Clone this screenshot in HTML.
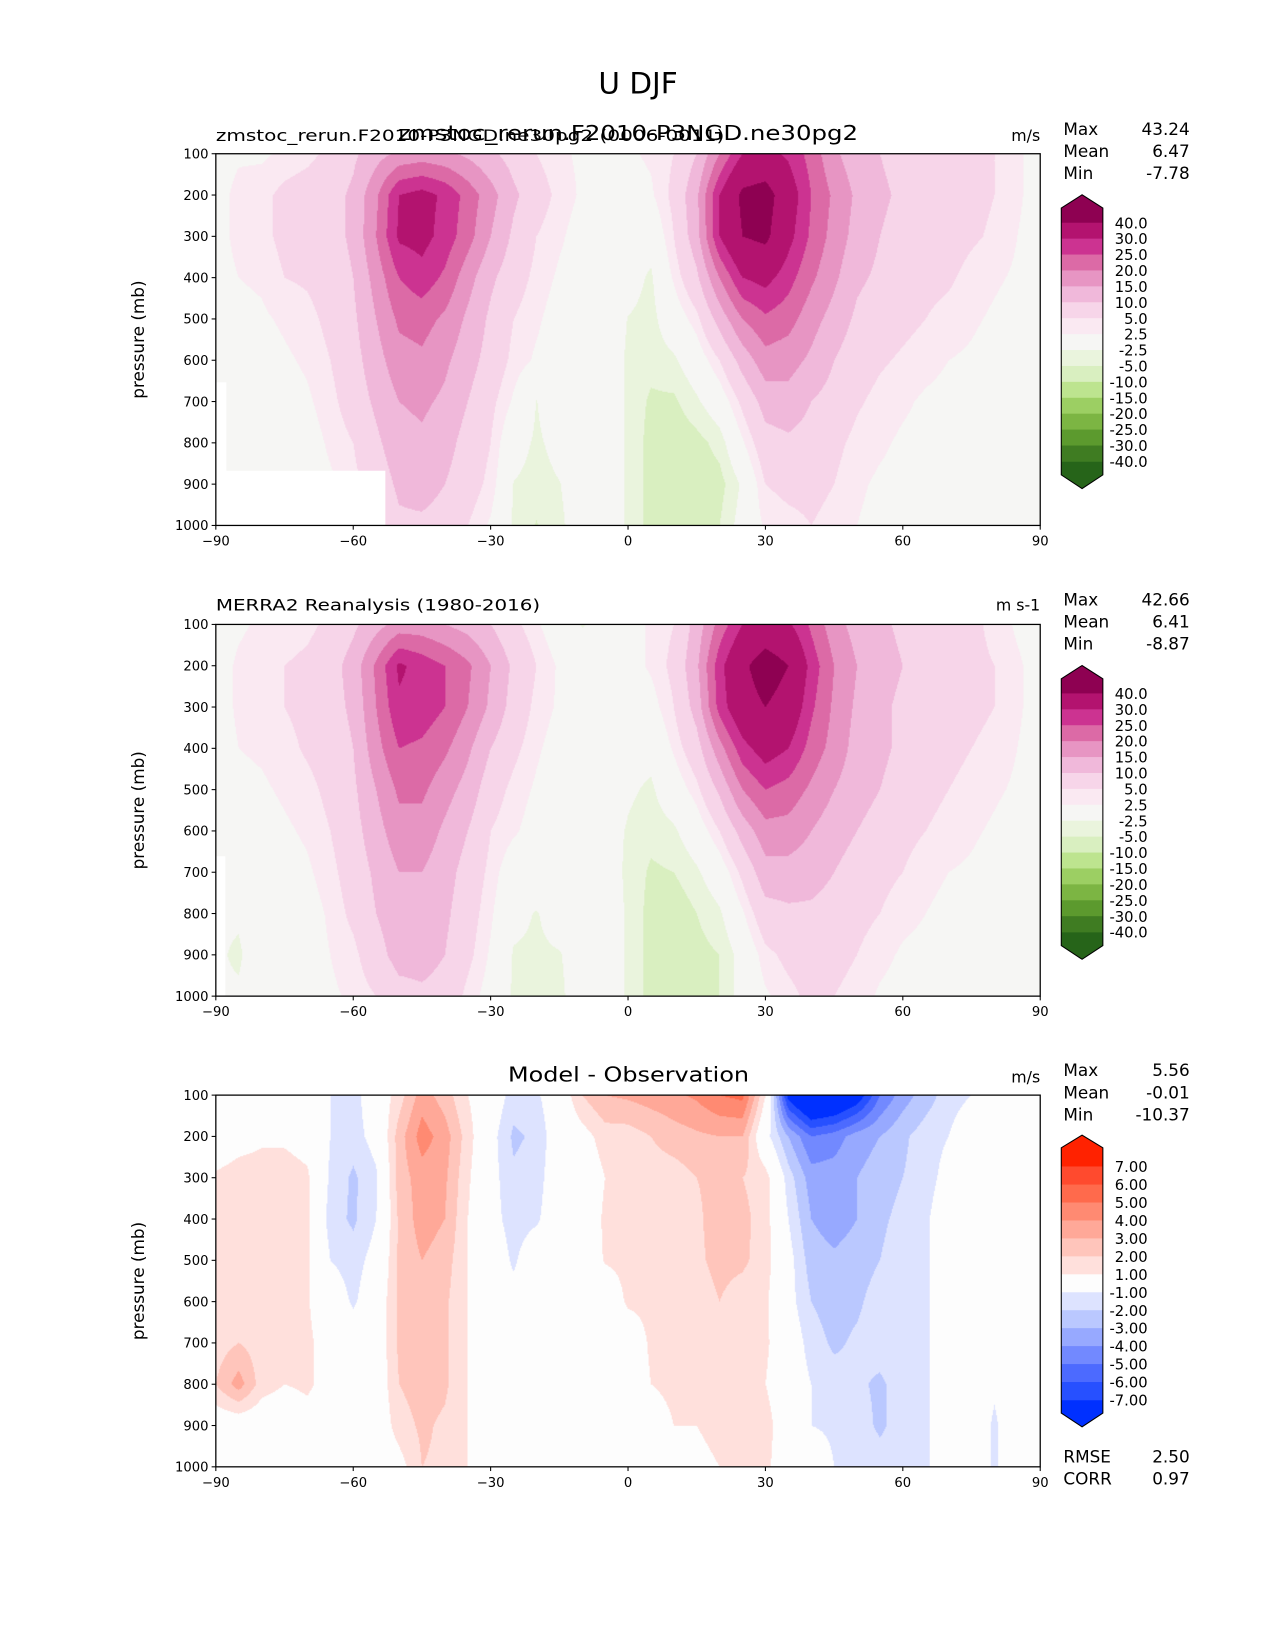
<!DOCTYPE html>
<html><head><meta charset="utf-8"><title>U DJF</title>
<style>
html,body{margin:0;padding:0;background:#fff;}
#page{position:absolute;left:0;top:0;width:1211px;height:1567px;transform:scale(1.05285,1.0530);transform-origin:0 0;font-family:"DejaVu Sans","Liberation Sans",sans-serif;}
canvas{position:absolute;}
svg{position:absolute;left:0;top:0;}
</style></head>
<body>
<div id="page">
<canvas id="c1" width="783" height="353" style="left:205px;top:146px"></canvas>
<canvas id="c2" width="783" height="353" style="left:205px;top:593px"></canvas>
<canvas id="c3" width="783" height="353" style="left:205px;top:1040px"></canvas>
<svg id="ov" width="1211" height="1567" viewBox="0 0 1211 1567">
<text x="606" y="89" font-size="28" text-anchor="middle">U DJF</text>
<text x="205" y="134" font-size="15" textLength="483" lengthAdjust="spacingAndGlyphs">zmstoc_rerun.F2010-P3NGD.ne30pg2 (0006-0011)</text>
<text x="378" y="133" font-size="19" textLength="437" lengthAdjust="spacingAndGlyphs">zmstoc_rerun.F2010-P3NGD.ne30pg2</text>
<text x="988" y="134" font-size="15" text-anchor="end">m/s</text>
<text x="205" y="580" font-size="15" textLength="308" lengthAdjust="spacingAndGlyphs">MERRA2 Reanalysis (1980-2016)</text>
<text x="988" y="580" font-size="15" text-anchor="end">m s-1</text>
<text x="597" y="1027" font-size="19" text-anchor="middle" textLength="229" lengthAdjust="spacingAndGlyphs">Model - Observation</text>
<text x="988" y="1028" font-size="15" text-anchor="end">m/s</text>
<g font-size="16">
<text x="1010" y="128">Max</text><text x="1130" y="128" text-anchor="end">43.24</text>
<text x="1010" y="149">Mean</text><text x="1130" y="149" text-anchor="end">6.47</text>
<text x="1010" y="170">Min</text><text x="1130" y="170" text-anchor="end">-7.78</text>
</g>
<g font-size="16">
<text x="1010" y="575">Max</text><text x="1130" y="575" text-anchor="end">42.66</text>
<text x="1010" y="596">Mean</text><text x="1130" y="596" text-anchor="end">6.41</text>
<text x="1010" y="617">Min</text><text x="1130" y="617" text-anchor="end">-8.87</text>
</g>
<g font-size="16">
<text x="1010" y="1022">Max</text><text x="1130" y="1022" text-anchor="end">5.56</text>
<text x="1010" y="1043">Mean</text><text x="1130" y="1043" text-anchor="end">-0.01</text>
<text x="1010" y="1064">Min</text><text x="1130" y="1064" text-anchor="end">-10.37</text>
<text x="1010" y="1389">RMSE</text><text x="1130" y="1389" text-anchor="end">2.50</text>
<text x="1010" y="1410">CORR</text><text x="1130" y="1410" text-anchor="end">0.97</text>
</g>
</svg>
</div>
<script>
const lats = [-90,-85,-80,-75,-70,-65,-60,-55,-50,-45,-40,-35,-30,-25,-20,-15,-10,-5,0,5,10,15,20,25,30,35,40,45,50,55,60,65,70,75,80,85,90];
const pLevels = [100,200,300,400,500,600,700,800,900,1000];
const xTicks = [-90,-60,-30,0,30,60,90];
const xTickLabels = ["\u221290","\u221260","\u221230","0","30","60","90"];
const yTicks = [100,200,300,400,500,600,700,800,900,1000];
// model U, one column per latitude, values at 100..1000 mb
const modelU = [
[1,1,1,1,1,0,0,0,0,0],
[2,3.5,3.5,2.5,1.5,0.5,0,-1,0,0],
[2,4,4,3,2,1,0.5,0,0,0],
[3,6,6,5,3,2,1,0.5,0,0],
[4,7,7,5.5,4,3,2,1,1,1],
[6,8,8,7,6,5,4,3,2,2],
[9,11,11,10,9,8,7,5,4,3],
[13,19,20,17,15,13,11,9,7,5],
[16,30,31,25,21,18,15,13,11,9],
[17,32,32,28,22,19,16,14,12,9],
[16,29,28,24,19,16,14,12,10,8],
[14,23,22,17,14,12,10,8,7,5],
[11,17,15,11,9,8,6,5,4,2],
[8,11,9,7,5,4,2,-1,-2.6,-3],
[5,7,5,4,3,2,-2.6,-3,-3.5,-5.2],
[3,4,3,2,1,1,0,-1.5,-2.6,-3],
[2,2,1,1,0.5,0,0,0,-1,-1],
[1,1,0.5,0,0,0,0,0,0,0],
[2,1,0,-1,-2.6,-3,-3,-3,-3,-3],
[3,2,-1,-3,-3.5,-4,-5.5,-6,-6,-6],
[5,6,5,3,0,-3,-5.5,-7,-7,-7],
[10,14,13,9,4,0,-3,-6,-7,-7],
[20,30,30,20,12,5,0,-4,-6,-5],
[30,42,40,30,20,12,6,2,-2,-1],
[32,44,42,32,24,18,12,8,5,3],
[29,34,32,27,22,17,13,9,6,4],
[23,25,24,21,17,14,10,8,6,5],
[16,19,18,16,13,10,8,6,5,4],
[12,14,13,11,9,7,5.5,4,3,2.5],
[10,11,10,9,7,5.5,4,3,2,1.5],
[8,9,8,7,6,4.5,3,2,1.5,1],
[7,7.5,7,6,5,3.5,2,1.5,1,1],
[6.5,7,6.5,5.5,4,2.5,1.5,1,1,1],
[6,6,5.5,4,3,2,1,1,1,1],
[5,5,4.5,3,2,1,1,1,1,1],
[3,3,2.5,2,1,1,1,1,1,1],
[1,1,1,1,1,1,1,1,1,1]];
const obsU = [
[1,1,1,1,1,0,-1,-2,-2,-2],
[2,3,3,2.5,1.5,0.5,-1,-2,-3,-2],
[3,4,4,3,2,1,0,0,0,0],
[3,5,5,4,3,2,1,0.5,0,0],
[4,6,6,5.5,4,3,2,1,1,0.5],
[6,8,8,7,6,5,4,3,2.5,2],
[9,12,11,10,9,8,7,6,4,3],
[13,21,20,18,15,13,11,10,8,5],
[17,31,29,25,21,18,15,13,12,8],
[17,28,28,24,21,18,15,13,12,9],
[15,25,25,21,17,14,12,11,10,8],
[13,21,20,16,13,10,8,7,6,4],
[10,15,14,10,7,5,4,3,2,1],
[6,9,8,6,4,3,0,-1.5,-2.8,-3],
[3,5,4,3,2,1,0,-2.7,-3,-3],
[0,2,2,1,0.5,0,0,-1,-2.7,-3],
[-2.8,1,1,0.5,0,0,0,0,-1,-1],
[-1,1,1,0,0,-1,-1,0,0,0],
[1,1,0,-1,-2,-2.8,-3,-3,-3,-3],
[3,3,1,-1.5,-3,-4,-5.5,-6,-6,-6],
[5,6,5,3,0,-3,-5,-7,-7,-7],
[12,14,12,8,4,0,-3,-5,-6,-7],
[22,28,27,18,11,5,0,-3,-5,-5],
[30,38,36,28,20,12,6,2,-1,-1],
[33,45,40,33,25,18,13,8,4,2],
[31,40,36,30,23,18,13,9,6,4],
[24,28,26,23,19,15,12,9,7,6],
[17,20,19,18,15,12,10,8,6,5],
[13,15,14,13,12,10,8,6,5,4],
[11,12,11,11,10,8,6,5,3.5,2],
[9,10,9,9,8,6,5,3.5,2,1],
[8,8,8,7.5,6,5,3.5,2.5,1.5,1],
[7,7,7,6,5,4,2.5,1.5,1,1],
[6,6,6,5,4,3,2,1,1,1],
[4,5,5,4,3,2,1,1,1,1],
[2,3,3,2.5,2,1,1,1,1,1],
[1,1,1,1,1,1,1,1,1,1]];
const diffU = [
[0,0,1.2,1.2,1.2,1.2,1.5,2,0,0],
[0,0.5,1.5,1.5,1.5,1.3,2,3.5,0,0],
[0,0.8,1.5,1.3,1,1,1.5,1.5,0,0],
[0,0.8,1.5,1.3,1.2,1.1,1.2,1,0,0],
[0,0.5,1.2,1.2,1.2,1.1,1.2,1.2,0.5,0],
[-1,-1,-1.2,-1.5,-1,0,0.5,0.5,0,0],
[-1.5,-1.5,-2.2,-2.2,-1.5,-1.2,0,0,0,0],
[0,-0.5,-1.2,-1,-0.5,0,0,0,0,0],
[1.5,2.5,2.5,2.2,2.2,2.2,2.2,2,1.5,0.5],
[3.5,4.5,3.5,3.5,3,2.5,2.5,2.5,2.2,2],
[2.5,3.5,3.2,3,2.5,2.2,2.2,2.2,1.8,1.8],
[1,1.5,1.2,1,1,1,1,1,1,1],
[0,-0.5,-0.5,-0.5,0,0,0,0,0,0],
[-1.5,-2.2,-1.8,-1.5,-1.2,-0.5,0,0,0,0],
[-1.2,-1.8,-1.5,-1.2,0,0,0,0,0,0],
[0,0,0,0,0,0,0,0,0,0],
[2,0.5,0,0,0,0,0,0,0,0],
[3,1.5,1,1.2,1.1,0,0,0,0,0],
[3.2,1.5,1.2,1.5,1.3,1.2,0,0,0,0],
[3.5,2,1.5,1.5,1.5,1.3,1.2,1,0.5,0],
[3.8,2.5,1.5,1.5,1.5,1.5,1.2,1.2,1,0.5],
[4.2,2.8,2,1.8,1.8,1.5,1.2,1.2,1,0.8],
[5,3,2.3,2.5,2.3,2,1.5,1.2,1.2,1],
[5.3,3,2,2.3,2.2,1.5,1.5,1.2,1.2,1.2],
[1,-0.5,1.5,1.5,1.5,1.2,1.2,1,1.5,1.3],
[-7.5,-3,-1.5,-1,-0.5,-0.5,0,0,0,0],
[-10,-5,-3.5,-3,-2.5,-2,-1.5,-1,-1,0],
[-9.5,-4.5,-3.5,-3.5,-2.8,-2.5,-2.2,-1.5,-1.2,-1],
[-8,-3.5,-3,-3,-2.5,-2.2,-1.8,-1.8,-1.5,-1.2],
[-5,-3,-2.5,-2.2,-2,-1.5,-1.5,-2.2,-2.2,-1.5],
[-3.5,-2.2,-2,-1.7,-1.5,-1.2,-1.2,-1.5,-1.5,-1.5],
[-2.5,-1.5,-1.5,-1.2,-1.2,-1.2,-1.2,-1.2,-1.2,-1.2],
[-1.5,-1,-0.5,0,0,0,0,0,0,0],
[-1,0,0,0,0,0,0,0,0,0],
[0,0,0,0,0,0,0,-0.8,-1.2,-1.2],
[0,0,0,0,0,0,0,0,0,0],
[0,0,0,0,0,0,0,0,0,0]];
const uLevels = [-40,-30,-25,-20,-15,-10,-5,-2.5,2.5,5,10,15,20,25,30,40];
const uLevelLabels = ["-40.0","-30.0","-25.0","-20.0","-15.0","-10.0","-5.0","-2.5","2.5","5.0","10.0","15.0","20.0","25.0","30.0","40.0"];
const uColors = ["#266419","#3f7c22","#5c9a2e","#7cb543","#9ccf63","#bde48f","#d9efc0","#eaf4dd","#f6f6f4","#fae9f2","#f7d5e9","#f0b8da","#e795c3","#dc6aa6","#cc3391","#b3136f","#8e0152"];
const dLevels = [-7,-6,-5,-4,-3,-2,-1,1,2,3,4,5,6,7];
const dLevelLabels = ["-7.00","-6.00","-5.00","-4.00","-3.00","-2.00","-1.00","1.00","2.00","3.00","4.00","5.00","6.00","7.00"];
const dColors = ["#0030ff","#2750ff","#4c6aff","#7289ff","#97a9ff","#bac8ff","#dde3ff","#fdfdfd","#ffe0dc","#ffc5bb","#ffa898","#ff8a72","#ff6a4c","#ff4a2e","#ff2200"];

const PX0 = 205, PW = 783, PH = 353;
const panelTops = [146, 593, 1040];
function xScale(lat){ return PX0 + (lat + 90) / 180 * PW; }
function yScale(p, top){ return top + (p - 100) / 900 * PH; }

function sample(grid, lat, p){
  let fi = (lat - lats[0]) / (lats[1] - lats[0]);
  let fj = (p - pLevels[0]) / (pLevels[1] - pLevels[0]);
  fi = Math.max(0, Math.min(lats.length - 1.0001, fi));
  fj = Math.max(0, Math.min(pLevels.length - 1.0001, fj));
  const i = Math.floor(fi), j = Math.floor(fj), a = fi - i, b = fj - j;
  return grid[i][j]*(1-a)*(1-b) + grid[i+1][j]*a*(1-b) + grid[i][j+1]*(1-a)*b + grid[i+1][j+1]*a*b;
}
function hex(c){ return [parseInt(c.slice(1,3),16),parseInt(c.slice(3,5),16),parseInt(c.slice(5,7),16)]; }

function renderField(id, grid, levels, colors, mask){
  const cv = document.getElementById(id), ctx = cv.getContext('2d');
  const img = ctx.createImageData(PW, PH), rgb = colors.map(hex);
  for (let y = 0; y < PH; y++){
    const p = 100 + 900 * (y + 0.5) / PH;
    for (let x = 0; x < PW; x++){
      const lat = -90 + 180 * (x + 0.5) / PW;
      let c;
      if (mask && mask(lat, p)) c = [255,255,255];
      else { const v = sample(grid, lat, p); let k = 0; while (k < levels.length && v >= levels[k]) k++; c = rgb[k]; }
      const o = (y * PW + x) * 4;
      img.data[o] = c[0]; img.data[o+1] = c[1]; img.data[o+2] = c[2]; img.data[o+3] = 255;
    }
  }
  ctx.putImageData(img, 0, 0);
}
renderField('c1', modelU, uLevels, uColors, (lat,p)=> (lat < -87.7 && p > 652) || (lat < -53 && p > 868));
renderField('c2', obsU, uLevels, uColors, (lat,p)=> (lat < -88 && p > 660));
renderField('c3', diffU, dLevels, dColors, null);

const NS = 'http://www.w3.org/2000/svg';
const svg = document.getElementById('ov');
function mk(tag, attrs, parent){ const e = document.createElementNS(NS, tag); for (const k in attrs) e.setAttribute(k, attrs[k]); (parent||svg).appendChild(e); return e; }

const panelNames = ['model','obs','diff'];
panelTops.forEach((top, pi) => {
  const g = mk('g', {});
  
  
  const fr = mk('rect', {x: PX0, y: top, width: PW, height: PH, fill: 'none', stroke: '#000', 'stroke-width': 1.2}, g);
  
  
  xTicks.forEach((t, i) => {
    const x = xScale(t);
    const tk = mk('line', {x1: x, x2: x, y1: top + PH, y2: top + PH + 4, stroke: '#000', 'stroke-width': 1}, g);
    
    
    const tl = mk('text', {x: x, y: top + PH + 19, 'font-size': 12.5, 'text-anchor': 'middle'}, g);
    tl.textContent = xTickLabels[i];
    
    
  });
  yTicks.forEach(t => {
    const y = yScale(t, top);
    const tk = mk('line', {x1: PX0 - 4, x2: PX0, y1: y, y2: y, stroke: '#000', 'stroke-width': 1}, g);
    
    
    const tl = mk('text', {x: PX0 - 7, y: y + 4.5, 'font-size': 12.5, 'text-anchor': 'end'}, g);
    tl.textContent = String(t);
    
    
  });
  const yl = mk('text', {x: 0, y: 0, 'font-size': 16, 'text-anchor': 'middle', transform: 'translate(137,' + (top + PH/2) + ') rotate(-90)'}, g);
  yl.textContent = 'pressure (mb)';
  
  
});

function colorbar(name, levels, labels, colors, tip, shoulder, bTop, bBot, shoulder2, tip2){
  const g = mk('g', {});
  
  
  const x0 = 1008, x1 = 1047.5, xc = (x0 + x1) / 2;
  const n = levels.length - 1, h = (bBot - bTop) / n;
  const top = mk('polygon', {points: `${x0},${bTop} ${x0},${shoulder} ${xc},${tip} ${x1},${shoulder} ${x1},${bTop}`, fill: colors[colors.length-1]}, g);
  
  
  for (let k = 0; k < n; k++){
    const r = mk('rect', {x: x0, y: bTop + k*h - 0.3, width: x1 - x0, height: h + 0.6, fill: colors[colors.length - 2 - k]}, g);
    
    
  }
  const bot = mk('polygon', {points: `${x0},${bBot} ${x0},${shoulder2} ${xc},${tip2} ${x1},${shoulder2} ${x1},${bBot}`, fill: colors[0]}, g);
  
  
  const ol = mk('polygon', {points: `${x0},${shoulder} ${xc},${tip} ${x1},${shoulder} ${x1},${shoulder2} ${xc},${tip2} ${x0},${shoulder2}`, fill: 'none', stroke: '#000', 'stroke-width': 1}, g);
  
  
  for (let k = 0; k <= n; k++){
    const y = bTop + k*h;
    const t = mk('text', {x: 1090, y: y + 5, 'font-size': 14, 'text-anchor': 'end'}, g);
    t.textContent = labels[labels.length - 1 - k];
    
    
  }
}
colorbar('model-colorbar', uLevels, uLevelLabels, uColors, 185, 197.6, 211.8, 438.5, 451, 464);
colorbar('obs-colorbar', uLevels, uLevelLabels, uColors, 185+447, 197.6+447, 211.8+447, 438.5+447, 451+447, 464+447);
colorbar('diff-colorbar', dLevels, dLevelLabels, dColors, 1078, 1090, 1108.2, 1329.8, 1342, 1355);
</script>
</body></html>
